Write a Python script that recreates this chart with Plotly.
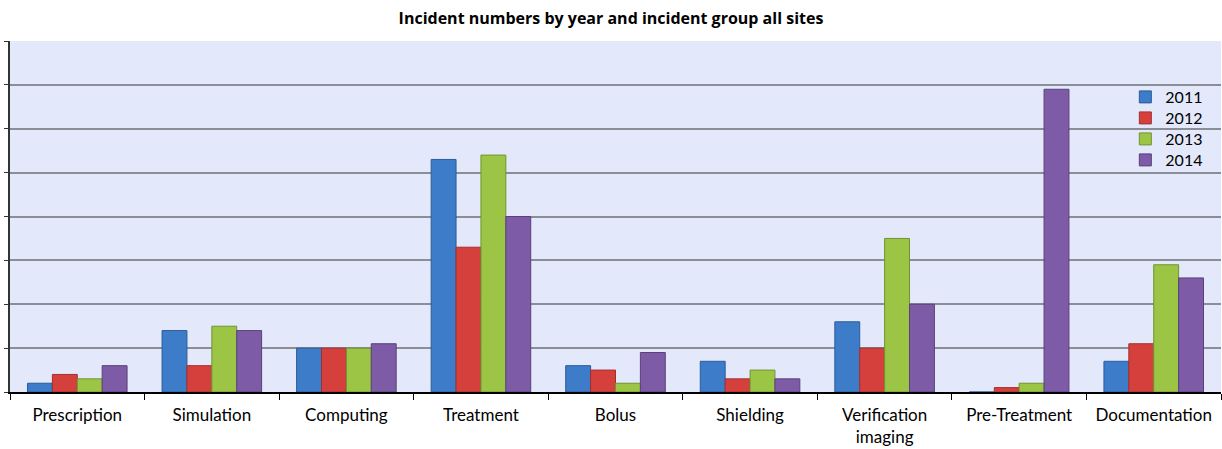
import plotly.graph_objects as go

categories = ["Prescription", "Simulation", "Computing", "Treatment", "Bolus",
              "Shielding", "Verification<br>imaging", "Pre-Treatment", "Documentation"]
years = ["2011", "2012", "2013", "2014"]
v2011 = [2, 14, 10, 53, 6, 7, 16, 0, 7]
v2012 = [4, 6, 10, 33, 5, 3, 10, 1, 11]
v2013 = [3, 15, 10, 54, 2, 5, 35, 2, 29]
v2014 = [6, 14, 11, 40, 9, 3, 20, 69, 26]
series = [v2011, v2012, v2013, v2014]
colors = ["#3D7CC9", "#D6403C", "#9CC545", "#7D5BA6"]
edges = ["#2B5C97", "#A32F2C", "#6F9431", "#5A4079"]

FONT = "Lato, Open Sans, Liberation Sans, sans-serif"
legend_ids = ["legend", "legend2", "legend3", "legend4"]
legend_y = [0.8405, 0.7806, 0.7208, 0.661]

fig = go.Figure()
for name, vals, c, e, lg in zip(years, series, colors, edges, legend_ids):
    fig.add_trace(go.Bar(x=categories, y=vals, name=name, legend=lg,
                         marker=dict(color=c, line=dict(color=e, width=1))))

legend_common = dict(x=0.921, xanchor="left", yanchor="middle",
                     bgcolor="rgba(0,0,0,0)", font=dict(size=16), itemwidth=30)

fig.update_layout(
    width=1222, height=449,
    margin=dict(l=10, r=1, t=41, b=57, autoexpand=False),
    paper_bgcolor="white", plot_bgcolor="#E3E9FB",
    bargap=0.26, bargroupgap=0.0,
    title=dict(text="<b>Incident numbers by year and incident group all sites</b>",
               x=0.5, xanchor="center", y=0.958, yanchor="middle",
               font=dict(family="Open Sans, Liberation Sans, sans-serif", size=16, color="#000")),
    font=dict(family=FONT, size=16, color="#000"),
    legend=dict(y=legend_y[0], **legend_common),
    legend2=dict(y=legend_y[1], **legend_common),
    legend3=dict(y=legend_y[2], **legend_common),
    legend4=dict(y=legend_y[3], **legend_common),
    showlegend=True,
)
fig.update_xaxes(showline=True, linecolor="#000", linewidth=1.5,
                 ticks="outside", tickson="boundaries", ticklen=6, tickcolor="#000",
                 showgrid=False, tickfont=dict(size=17), ticklabelstandoff=7)
fig.update_yaxes(range=[0, 80], dtick=10, showticklabels=False,
                 showgrid=True, gridcolor="#8A8E96", gridwidth=1.5,
                 showline=True, linecolor="#333", linewidth=1.5,
                 ticks="outside", ticklen=4, tickcolor="#333", zeroline=False)

fig.write_html("out.html")
